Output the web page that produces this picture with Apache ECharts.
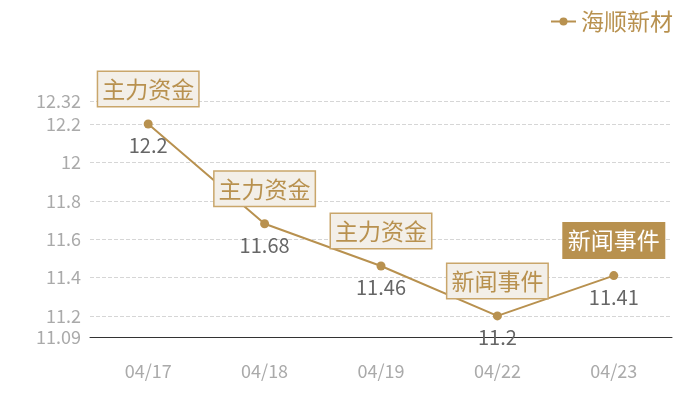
<!DOCTYPE html>
<html>
<head>
<meta charset="utf-8">
<script src="https://cdn.jsdelivr.net/npm/echarts@6/dist/echarts.min.js"></script>
<style>
  html, body { margin: 0; padding: 0; background: #fff; }
  #container { width: 700px; height: 400px; }
</style>
</head>
<body>
<div id="container"></div>
<script>
var dates = ['04/17', '04/18', '04/19', '04/22', '04/23'];
var prices = [12.2, 11.68, 11.46, 11.2, 11.41];
var tags = ['主力资金', '主力资金', '主力资金', '新闻事件', '新闻事件'];
var seriesName = '海顺新材';

var gold = '#b8914f';
var font = '"Noto Sans CJK SC", sans-serif';

var myChart = echarts.init(document.getElementById('container'));

// 标签框，最后一个高亮
var tagPoints = dates.map(function (d, i) {
    var last = i === dates.length - 1;
    return {
        coord: [d, prices[i]],
        value: tags[i],
        label: {
            backgroundColor: last ? gold : '#f3efe8',
            borderColor: last ? gold : '#c9a66b',
            color: last ? '#fff' : gold
        }
    };
});

var option = {
    textStyle: { fontFamily: font },
    legend: {
        right: 22,
        top: 5,
        itemWidth: 25,
        itemHeight: 10,
        itemGap: 10,
        textStyle: { color: gold, fontSize: 23, fontFamily: font },
        data: [seriesName]
    },
    grid: { left: 90, right: 28, top: 101, bottom: 63 },
    xAxis: {
        type: 'category',
        data: dates,
        axisLine: { lineStyle: { color: '#333' } },
        axisTick: { show: false },
        axisLabel: { color: '#aaa', fontSize: 18, margin: 25, fontFamily: font }
    },
    yAxis: {
        type: 'value',
        min: 11.09,
        max: 12.32,
        axisLine: { show: false },
        axisTick: { show: false },
        axisLabel: { color: '#aaa', fontSize: 18, margin: 9, fontFamily: font },
        splitLine: { lineStyle: { color: '#d6d6d6', type: 'dashed' } }
    },
    series: [{
        name: seriesName,
        type: 'line',
        data: prices,
        color: gold,
        symbol: 'circle',
        symbolSize: 9,
        lineStyle: { width: 2, color: gold },
        itemStyle: { color: gold },
        label: {
            show: true,
            position: 'bottom',
            distance: 7,
            color: '#666',
            fontSize: 20,
            fontFamily: font
        },
        markPoint: {
            symbol: 'circle',
            symbolSize: 0,
            label: {
                show: true,
                formatter: '{c}',
                position: 'inside',
                offset: [0, -35],
                fontSize: 23,
                lineHeight: 26,
                fontFamily: font,
                padding: [4, 4, 4, 4],
                borderWidth: 1.5
            },
            data: tagPoints
        }
    }]
};

myChart.setOption(option);
</script>
</body>
</html>
